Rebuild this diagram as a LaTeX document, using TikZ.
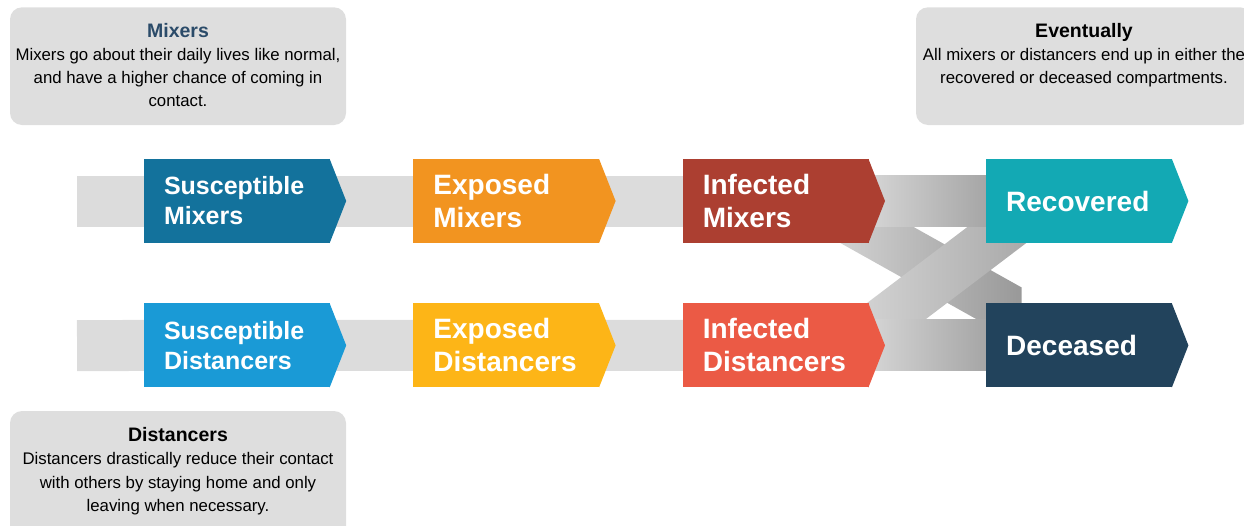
\documentclass[tikz,border=0pt]{standalone}
\usepackage{fontspec}
\setmainfont{Liberation Sans}
\usetikzlibrary{positioning}
\usetikzlibrary{calc,backgrounds}

\definecolor{susmix}{HTML}{13729C}
\definecolor{susdist}{HTML}{1A9AD6}
\definecolor{expmix}{HTML}{F29420}
\definecolor{expdist}{HTML}{FDB517}
\definecolor{infmix}{HTML}{AC3F31}
\definecolor{infdist}{HTML}{EB5A45}
\definecolor{recov}{HTML}{13A9B4}
\definecolor{decsd}{HTML}{22435C}
\definecolor{infogray}{HTML}{DEDEDE}
\definecolor{bandgray}{HTML}{DCDCDC}
\definecolor{banddark}{HTML}{A6A6A6}
\definecolor{mixtitle}{HTML}{2B4B69}

\tikzset{
  stage/.style={rectangle, minimum width=186pt, minimum height=84pt,
    inner xsep=20pt, inner ysep=0pt, text width=146pt, align=left,
    text=white, font=\bfseries\fontsize{28}{33}\selectfont},
  small stage/.style={stage, font=\bfseries\fontsize{25}{30}\selectfont},
  info/.style={align=center, font=\fontsize{16.8}{23.2}\selectfont},
  band/.style={draw=bandgray, line width=51pt},
}
\newcommand{\infotitle}[1]{{\fontsize{19.5}{23.2}\selectfont\bfseries #1}}

\begin{document}
\begin{tikzpicture}[x=1pt, y=-1pt]
		\clip (0,0) rectangle (1244,525);
		\fill[infogray, rounded corners=12pt] (10,7.3) rectangle (346,125);
		\fill[infogray, rounded corners=12pt] (916,7.3) rectangle (1252,125);
		\fill[infogray, rounded corners=12pt] (10,411) rectangle (346,540);

		\node[info] (mixtext) at (178,65.2) {\infotitle{\color{mixtitle}Mixers}\\
			Mixers go about their daily lives like normal,\\
			and have a higher chance of coming in\\contact.};
		\node[info] (evtext) at (1084,55.4) {\infotitle{Eventually}\\
			All mixers or distancers end up in either the\\
			recovered or deceased compartments.};
		\node[info] (disttext) at (178,471.2) {\infotitle{Distancers}\\
			Distancers drastically reduce their contact\\
			with others by staying home and only\\leaving when necessary.};

		% compartments, top row mixers, bottom row distancers
		\node[small stage, fill=susmix] (sm) at (237,201) {Susceptible\\Mixers};
		\node[stage, fill=expmix, right=83pt of sm] (em) {Exposed\\Mixers};
		\node[stage, fill=infmix, right=83pt of em] (im) {Infected\\Mixers};
		\node[stage, fill=recov, right=117pt of im] (rec) {Recovered};
		\node[small stage, fill=susdist, below=60pt of sm] (sd) {Susceptible\\Distancers};
		\node[stage, fill=expdist, below=60pt of em] (ed) {Exposed\\Distancers};
		\node[stage, fill=infdist, below=60pt of im] (id) {Infected\\Distancers};
		\node[stage, fill=decsd, below=60pt of rec] (dec) {Deceased};

		\foreach \n/\c in {sm/susmix,em/expmix,im/infmix,rec/recov,sd/susdist,ed/expdist,id/infdist,dec/decsd}
			\fill[\c] ([xshift=-0.6pt]\n.north east) -- ([xshift=16pt]\n.east)
				-- ([xshift=-0.6pt]\n.south east) -- cycle;

		\begin{scope}[on background layer]
			% crossing flows
			\shade[left color=bandgray!95!black, right color=banddark!92!black]
				(840,185.8) -- (1021.7,287.5) -- (1021.7,344.5) -- (840,242.8) -- cycle;
			\shade[left color=bandgray!97!black, right color=banddark]
				(850,315.9) -- (1040,172.0) -- (1040,232.6) -- (850,376.5) -- cycle;
			\coordinate (mixstart) at (77,201);
			\coordinate (diststart) at (77,345.5);
			\draw[band] (mixstart) -- (im.east);
			\draw[band] (diststart) -- (id.east);
			\shade[left color=bandgray!97!black, right color=banddark]
				([yshift=25.5pt]im.east) rectangle ([yshift=-25.5pt]rec.west);
			\shade[left color=bandgray!97!black, right color=banddark]
				([yshift=25.5pt]id.east) rectangle ([yshift=-25.5pt]dec.west);
		\end{scope}
\end{tikzpicture}
\end{document}
